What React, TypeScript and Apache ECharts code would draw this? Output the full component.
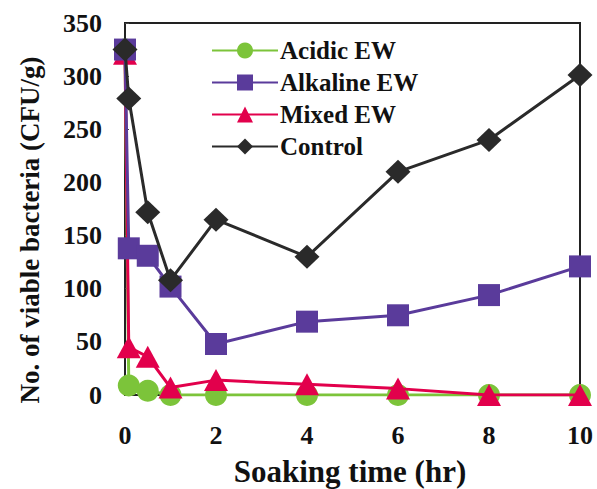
import React, { useEffect, useRef } from "react";
import * as echarts from "echarts";

const times = [0, 0.083, 0.5, 1, 2, 4, 6, 8, 10];
const acidic = [325, 9, 4, 0, 0, 0, 0, 0, 0];
const alkaline = [325, 138, 131, 102, 48, 69, 75, 94, 121];
const mixed = [321, 45, 36, 7, 14, 10, 6, 0, 0];
const control = [325, 279, 172, 108, 165, 130, 210, 240, 301];
const yTicks = [0, 50, 100, 150, 200, 250, 300, 350];
const xTicks = [0, 2, 4, 6, 8, 10];

const FONT = "'Liberation Serif', 'Times New Roman', serif";

function pairs(vals: number[]) {
  return times.map((t, i) => [t, vals[i]]);
}

export default function App() {
  const ref = useRef<HTMLDivElement>(null);
  useEffect(() => {
    if (!ref.current) return;
    const chart = echarts.init(ref.current, null, { renderer: "svg" });
    const textStyle = { fontFamily: FONT, fontWeight: "bold" as const, color: "#111" };
    chart.setOption({
      animation: false,
      backgroundColor: "#ffffff",
      grid: {
        left: 125,
        right: 17,
        top: 23,
        bottom: 94,
        show: true,
        borderColor: "#222",
        borderWidth: 2,
      },
      xAxis: {
        type: "value",
        min: xTicks[0],
        max: xTicks[xTicks.length - 1],
        interval: 2,
        axisLine: { show: true, lineStyle: { color: "#222", width: 2 } },
        axisTick: { show: false },
        splitLine: { show: false },
        axisLabel: { ...textStyle, fontSize: 26, margin: 27 },
      },
      yAxis: {
        type: "value",
        min: yTicks[0],
        max: yTicks[yTicks.length - 1],
        interval: 50,
        axisLine: { show: true, lineStyle: { color: "#222", width: 2 } },
        axisTick: { show: true, inside: true, length: 4, lineStyle: { color: "#444", width: 1 } },
        splitLine: { show: false },
        axisLabel: { ...textStyle, fontSize: 26, margin: 23 },
      },
      legend: {
        orient: "vertical",
        left: 206,
        top: 33,
        itemWidth: 66,
        itemHeight: 20,
        itemGap: 7,
        data: ["Acidic EW", "Alkaline EW", "Mixed EW", "Control"],
        textStyle: { ...textStyle, fontSize: 25, padding: [0, 0, 0, -3] },
      },
      graphic: [
        {
          type: "text",
          x: 350,
          y: 471,
          style: {
            text: "Soaking time (hr)",
            font: `bold 31px ${FONT}`,
            fill: "#111",
            textAlign: "center",
            textVerticalAlign: "middle",
          },
        },
        {
          type: "text",
          x: 30,
          y: 230,
          rotation: Math.PI / 2,
          style: {
            text: "No. of viable bacteria (CFU/g)",
            font: `bold 27px ${FONT}`,
            fill: "#111",
            textAlign: "center",
            textVerticalAlign: "middle",
          },
        },
      ],
      series: [
        {
          name: "Acidic EW",
          type: "line",
          data: pairs(acidic),
          symbol: "circle",
          symbolSize: 22,
          color: "#7cc43a",
          lineStyle: { width: 3, color: "#7cc43a" },
          itemStyle: { color: "#7cc43a" },
          z: 2,
        },
        {
          name: "Mixed EW",
          type: "line",
          data: pairs(mixed),
          symbol: "triangle",
          symbolSize: [24, 22],
          color: "#e2004c",
          lineStyle: { width: 3, color: "#e2004c" },
          itemStyle: { color: "#e2004c" },
          z: 3,
        },
        {
          name: "Alkaline EW",
          type: "line",
          data: pairs(alkaline),
          symbol: "rect",
          symbolSize: 22,
          color: "#5a3b9b",
          lineStyle: { width: 3, color: "#5a3b9b" },
          itemStyle: { color: "#5a3b9b" },
          z: 4,
        },
        {
          name: "Control",
          type: "line",
          data: pairs(control),
          symbol: "diamond",
          symbolSize: [25, 24],
          color: "#2a2a2a",
          lineStyle: { width: 3, color: "#2a2a2a" },
          itemStyle: { color: "#2a2a2a" },
          z: 5,
        },
      ],
    });
    return () => chart.dispose();
  }, []);
  return <div ref={ref} style={{ width: 597, height: 489, position: "absolute", left: 0, top: 0 }} />;
}
